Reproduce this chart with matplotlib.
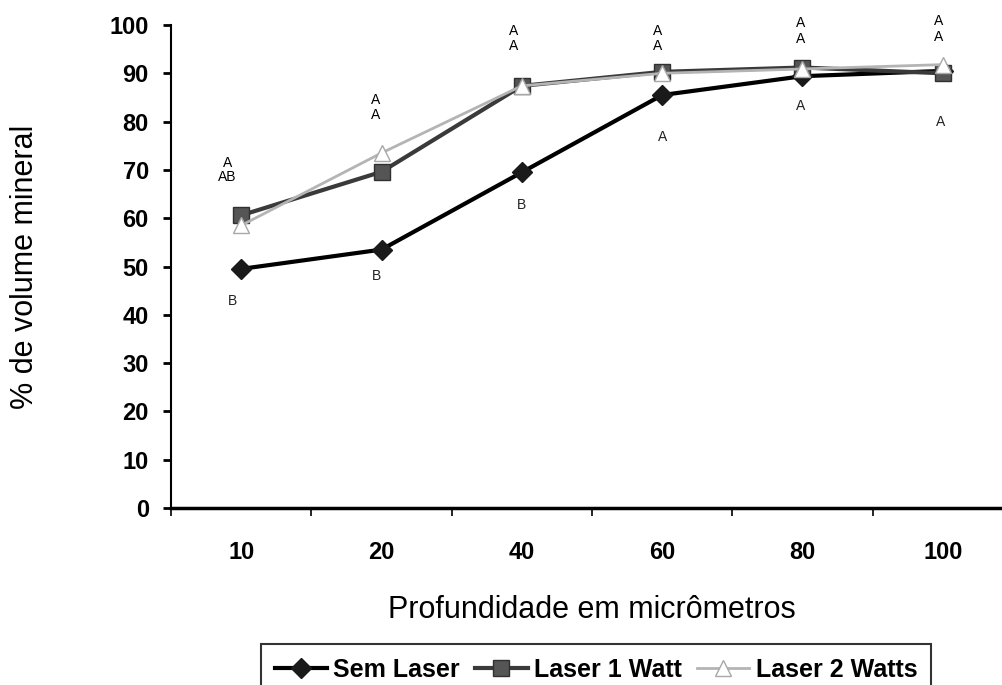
import matplotlib
matplotlib.use("Agg")
import matplotlib.pyplot as plt
import numpy as np

plt.rcParams['font.family'] = ['Liberation Sans', 'DejaVu Sans']

categories = ["10", "20", "40", "60", "80", "100"]
sem_laser = [49.5, 53.5, 69.5, 85.5, 89.4, 90.5]
laser_1w = [60.6, 69.6, 87.4, 90.3, 91.2, 90.0]
laser_2w = [58.5, 73.5, 87.4, 90.0, 90.9, 91.8]

# significance letters (text, y value) per category
letters_top = [["A", "AB"], ["A", "A"], ["A", "A"], ["A", "A"], ["A", "A"], ["A", "A"]]
letters_top_y = [[71.5, 68.5], [84.5, 81.4], [98.8, 95.7], [98.8, 95.7], [100.4, 97.1], [100.8, 97.6]]
letters_bottom = ["B", "B", "B", "A", "A", "A"]
letters_bottom_y = [42.8, 48.0, 62.7, 76.8, 83.2, 79.9]

yticks = [0, 10, 20, 30, 40, 50, 60, 70, 80, 90, 100]

fig = plt.figure(figsize=(10.03, 6.85), dpi=100)
ax = fig.add_axes([171/1003, 1 - 508/685, (1013 - 171)/1003, (508 - 25)/685])

x = np.arange(len(categories))
ax.plot(x, sem_laser, color='black', lw=3, marker='D', ms=10, mfc='#1a1a1a', mec='#1a1a1a',
        label='Sem Laser', zorder=3)
ax.plot(x, laser_1w, color='#3a3a3a', lw=3, marker='s', ms=11, mfc='#555555', mec='#303030',
        label='Laser 1 Watt', zorder=4)
ax.plot(x, laser_2w, color='#b4b4b4', lw=2, marker='^', ms=12, mfc='white', mec='#a8a8a8',
        label='Laser 2 Watts', zorder=5)

top_dx = [-0.1, -0.045, -0.057, -0.03, -0.014, -0.03]
bot_dx = [-0.065, -0.035, -0.0, 0.0, -0.014, -0.014]
for i in range(len(categories)):
    for t, yv in zip(letters_top[i], letters_top_y[i]):
        ax.text(x[i] + top_dx[i], yv, t, ha='center', va='center', fontsize=10,
                clip_on=False)
    ax.text(x[i] + bot_dx[i], letters_bottom_y[i], letters_bottom[i],
            ha='center', va='center', fontsize=10, color='#222222')

ax.set_xlim(-0.5, len(categories) - 0.5)
ax.set_ylim(0, 100)
ax.set_yticks(yticks)
ax.set_yticklabels([str(v) for v in yticks], fontweight='bold', fontsize=17)
ax.set_xticks(x)
ax.set_xticklabels(categories, fontweight='bold', fontsize=17)
ax.set_xticks(np.arange(len(categories) + 1) - 0.5, minor=True)
ax.tick_params(axis='x', which='major', length=0, pad=24)
ax.tick_params(axis='x', which='minor', length=6, width=1.2, direction='out')
ax.tick_params(axis='y', length=6, width=2, direction='out', pad=10)

for s in ['top', 'right']:
    ax.spines[s].set_visible(False)
ax.spines['left'].set_linewidth(1.5)
ax.spines['bottom'].set_linewidth(2.5)

ax.set_ylabel('% de volume mineral', fontsize=22, labelpad=50)
ax.set_xlabel('Profundidade em micrômetros', fontsize=22, labelpad=22)

leg = fig.legend(loc='upper left', bbox_to_anchor=(261/1003, 1 - 644/685), ncol=3,
                 prop={'weight': 'bold', 'size': 18}, frameon=True, fancybox=False,
                 edgecolor='black', handlelength=2.1, handletextpad=0.25, columnspacing=0.6,
                 borderpad=0.55, borderaxespad=0)
leg.get_frame().set_linewidth(1.5)

fig.savefig('out.png', dpi=100)
